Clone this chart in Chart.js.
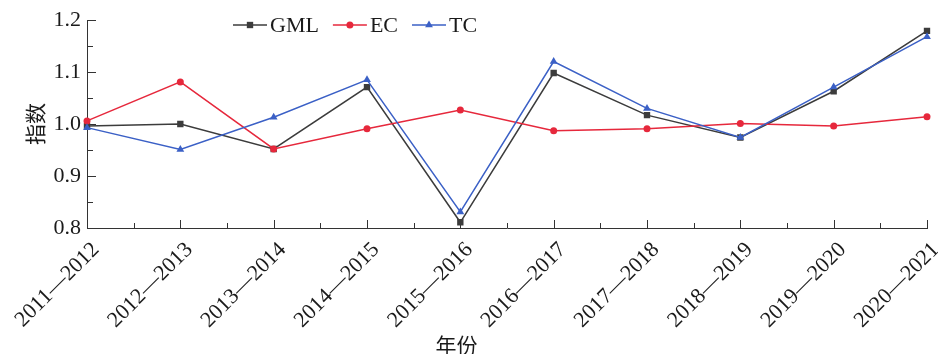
<!DOCTYPE html>
<html>
<head>
<meta charset="utf-8">
<script src="https://cdn.jsdelivr.net/npm/chart.js@4/dist/chart.umd.min.js"></script>
<style>
    html, body { margin: 0; padding: 0; background: #fff; }
    #wrap { width: 938px; height: 354px; }
</style>
</head>
<body>
<div id="wrap"><canvas id="chart" width="938" height="354"></canvas></div>
<script>
// --- Données ---
const years = ["2011—2012", "2012—2013", "2013—2014", "2014—2015", "2015—2016",
               "2016—2017", "2017—2018", "2018—2019", "2019—2020", "2020—2021"];
const gml = [0.996, 1.000, 0.952, 1.071, 0.811, 1.098, 1.017, 0.974, 1.063, 1.179];
const ec  = [1.006, 1.081, 0.952, 0.991, 1.027, 0.987, 0.991, 1.001, 0.996, 1.014];
const tc  = [0.993, 0.951, 1.013, 1.085, 0.831, 1.120, 1.030, 0.974, 1.071, 1.168];

const yMajor = [0.8, 0.9, 1.0, 1.1, 1.2];
const yMinor = [0.85, 0.95, 1.05, 1.15];

const serif = "'Liberation Serif', 'Times New Roman', serif";
const cjk = "'Noto Sans CJK SC', sans-serif";
const axisColor = "#333";
const textColor = "#1a1a1a";

// ticks tournés vers l'intérieur + titres d'axes + légende dans la zone
const decorations = {
    id: "decorations",
    beforeDatasetsDraw(chart) {
        const { ctx, chartArea, scales: { x, y } } = chart;
        ctx.save();
        ctx.strokeStyle = axisColor;
        ctx.lineWidth = 1;
        ctx.beginPath();
        yMajor.forEach(v => {
            const py = Math.round(y.getPixelForValue(v)) + 0.5;
            ctx.moveTo(chartArea.left, py);
            ctx.lineTo(chartArea.left + 9, py);
        });
        yMinor.forEach(v => {
            const py = Math.round(y.getPixelForValue(v)) + 0.5;
            ctx.moveTo(chartArea.left, py);
            ctx.lineTo(chartArea.left + 6, py);
        });
        years.forEach((_, i) => {
            const px = Math.round(x.getPixelForValue(i)) + 0.5;
            ctx.moveTo(px, chartArea.bottom);
            ctx.lineTo(px, chartArea.bottom - 8);
            if (i < years.length - 1) {
                const pm = Math.round(x.getPixelForValue(i + 0.5)) + 0.5;
                ctx.moveTo(pm, chartArea.bottom);
                ctx.lineTo(pm, chartArea.bottom - 5);
            }
        });
        ctx.stroke();
        ctx.restore();
    },
    afterDraw(chart) {
        const { ctx, chartArea } = chart;
        ctx.save();
        ctx.fillStyle = textColor;
        ctx.font = "21px " + cjk;
        ctx.textAlign = "center";
        ctx.textBaseline = "middle";
        // titre Y
        ctx.save();
        ctx.translate(chartArea.left - 52, (chartArea.top + chartArea.bottom) / 2);
        ctx.rotate(-Math.PI / 2);
        ctx.fillText("指数", 0, 0);
        ctx.restore();
        // titre X
        ctx.fillText("年份", chartArea.left + (chartArea.right - chartArea.left) * 0.44, 345);

        // légende
        ctx.font = "22px " + serif;
        ctx.textAlign = "left";
        let lx = 233;
        const ly = 25;
        chart.data.datasets.forEach((ds, i) => {
            ctx.strokeStyle = ds.borderColor;
            ctx.lineWidth = ds.borderWidth;
            ctx.beginPath();
            ctx.moveTo(lx, ly);
            ctx.lineTo(lx + 34, ly);
            ctx.stroke();
            ctx.fillStyle = ds.pointBackgroundColor;
            Chart.helpers.drawPoint(ctx, {
                pointStyle: ds.pointStyle,
                radius: ds.pointRadius,
                borderWidth: 0,
                rotation: 0
            }, lx + 17, ly);
            ctx.fillStyle = textColor;
            ctx.fillText(ds.label, lx + 37, ly + 1);
            lx += 37 + ctx.measureText(ds.label).width + 14;
        });
        ctx.restore();
    }
};

new Chart(document.getElementById("chart"), {
    type: "line",
    data: {
        labels: years,
        datasets: [
            {
                label: "GML",
                data: gml,
                borderColor: "#3c3c3c",
                backgroundColor: "#3c3c3c",
                pointBackgroundColor: "#3c3c3c",
                borderWidth: 1.5,
                pointStyle: "rect",
                pointRadius: 4.5,
                pointBorderWidth: 0,
                order: 3
            },
            {
                label: "EC",
                data: ec,
                borderColor: "#e6283c",
                backgroundColor: "#e6283c",
                pointBackgroundColor: "#e6283c",
                borderWidth: 1.5,
                pointStyle: "circle",
                pointRadius: 3.5,
                pointBorderWidth: 0,
                order: 2
            },
            {
                label: "TC",
                data: tc,
                borderColor: "#3b60c6",
                backgroundColor: "#3b60c6",
                pointBackgroundColor: "#3b60c6",
                borderWidth: 1.5,
                pointStyle: "triangle",
                pointRadius: 4.5,
                pointBorderWidth: 0,
                order: 1
            }
        ]
    },
    options: {
        responsive: false,
        animation: false,
        layout: { padding: { left: 0, right: 11, top: 20, bottom: 0 } },
        plugins: {
            legend: { display: false },
            tooltip: { enabled: false }
        },
        elements: { line: { tension: 0 } },
        scales: {
            x: {
                offset: false,
                grid: { display: false, drawTicks: false },
                border: { display: true, color: axisColor, width: 1 },
                ticks: {
                    color: textColor,
                    font: { family: serif, size: 22 },
                    minRotation: 45,
                    maxRotation: 45,
                    autoSkip: false,
                    padding: 9,
                    labelOffset: 9
                },
                afterFit(scale) {
                    scale.height = 126;
                    scale.paddingLeft = 0;
                    scale.paddingRight = 0;
                }
            },
            y: {
                min: 0.8,
                max: 1.2,
                grid: { display: false, drawTicks: false },
                border: { display: true, color: axisColor, width: 1 },
                ticks: {
                    color: textColor,
                    font: { family: serif, size: 22 },
                    stepSize: 0.1,
                    padding: 6,
                    callback: v => v.toFixed(1)
                },
                afterFit(scale) {
                    scale.width = 87;
                }
            }
        }
    },
    plugins: [decorations]
});
</script>
</body>
</html>
